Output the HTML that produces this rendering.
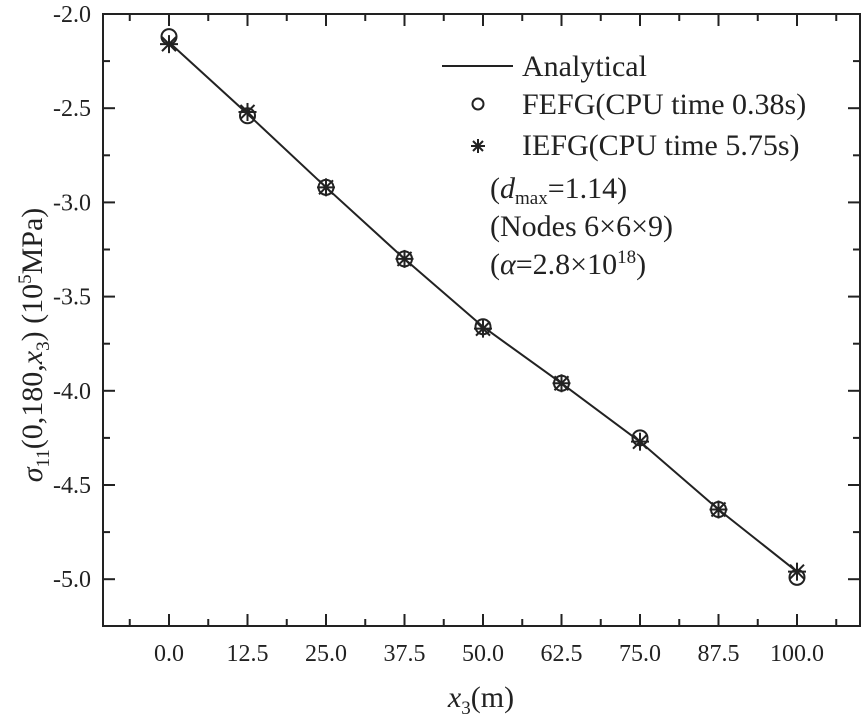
<!DOCTYPE html>
<html><head><meta charset="utf-8"><style>
body{margin:0;background:#fff;}
svg{display:block;font-family:"Liberation Serif",serif;}
</style></head><body>
<svg id="c" width="861" height="720">
<g id="axes"></g><g id="series"></g>
<g font-size="30" fill="#222">
<line x1="442" y1="66" x2="513" y2="66" stroke="#222" stroke-width="2"/>
<text x="522" y="76">Analytical</text>
<circle cx="478" cy="104" r="5.5" fill="none" stroke="#222" stroke-width="2"/>
<text x="522" y="114">FEFG(CPU time 0.38s)</text>
<g stroke="#222" stroke-width="2"><line x1="471" y1="146" x2="485" y2="146"/><line x1="478" y1="139" x2="478" y2="153"/><line x1="473" y1="141" x2="483" y2="151"/><line x1="483" y1="141" x2="473" y2="151"/></g>
<text x="522" y="155">IEFG(CPU time 5.75s)</text>
<text x="490" y="198">(<tspan font-style="italic">d</tspan><tspan font-size="19" dy="6">max</tspan><tspan dy="-6">=1.14)</tspan></text>
<text x="490" y="236">(Nodes 6×6×9)</text>
<text x="490" y="274">(<tspan font-style="italic">α</tspan>=2.8×10<tspan font-size="19" dy="-11">18</tspan><tspan dy="11">)</tspan></text>
</g>
<text x="481" y="707" text-anchor="middle" font-size="30" fill="#222"><tspan font-style="italic">x</tspan><tspan font-size="19" dy="7">3</tspan><tspan dy="-7">(m)</tspan></text>
<text transform="translate(42,345) rotate(-90)" text-anchor="middle" font-size="30" fill="#222"><tspan font-style="italic">σ</tspan><tspan font-size="19" dy="7">11</tspan><tspan dy="-7">(0,180,</tspan><tspan font-style="italic">x</tspan><tspan font-size="19" dy="7">3</tspan><tspan dy="-7">) (10</tspan><tspan font-size="19" dy="-11">5</tspan><tspan dy="11">MPa)</tspan></text>
</svg>
<script>
const xCats=[0,12.5,25,37.5,50,62.5,75,87.5,100];
const analytical=[-2.15,-2.53,-2.92,-3.30,-3.66,-3.96,-4.27,-4.63,-4.96];
const fefg=[-2.12,-2.54,-2.92,-3.30,-3.66,-3.96,-4.25,-4.63,-4.99];
const iefg=[-2.16,-2.52,-2.92,-3.30,-3.67,-3.96,-4.27,-4.63,-4.96];
const xTicks=["0.0","12.5","25.0","37.5","50.0","62.5","75.0","87.5","100.0"];
const yTicks=["-2.0","-2.5","-3.0","-3.5","-4.0","-4.5","-5.0"];
const L=103,R=860,T=14,B=626;
const X=v=>169+v/12.5*78.5;
const Y=v=>14+(-2-v)/0.5*94.2;
const NS="http://www.w3.org/2000/svg";
function mk(p,t,a){const e=document.createElementNS(NS,t);for(const k in a)e.setAttribute(k,a[k]);p.appendChild(e);return e;}
const ax=document.getElementById('axes'),se=document.getElementById('series');
const frame=mk(ax,'rect',{x:L,y:T,width:R-L,height:B-T,fill:'none',stroke:'#222','stroke-width':2});


for(let v=-6.25;v<=110;v+=6.25){const x=X(v);if(x<=L||x>=R)continue;const maj=Math.abs(v%12.5)<1e-9;const len=maj?12:7;
mk(ax,'line',{x1:x,y1:B,x2:x,y2:B-len,stroke:'#222','stroke-width':2});mk(ax,'line',{x1:x,y1:T,x2:x,y2:T+len,stroke:'#222','stroke-width':2});}
for(let v=-2.25;v>=-5.25;v-=0.25){const y=Y(v);if(y>=B||y<=T)continue;const maj=Math.abs((v*4)%2)<1e-9;const len=maj?12:7;
mk(ax,'line',{x1:L,y1:y,x2:L+len,y2:y,stroke:'#222','stroke-width':2});mk(ax,'line',{x1:R,y1:y,x2:R-len,y2:y,stroke:'#222','stroke-width':2});}
xTicks.forEach((t,i)=>{const e=mk(ax,'text',{x:X(xCats[i]),y:661,'text-anchor':'middle','font-size':24,fill:'#222'});e.textContent=t;

});
yTicks.forEach(t=>{const e=mk(ax,'text',{x:91,y:Y(parseFloat(t))+8,'text-anchor':'end','font-size':24,fill:'#222'});e.textContent=t;

});
const pl=mk(se,'polyline',{points:xCats.map((c,i)=>X(c)+','+Y(analytical[i])).join(' '),fill:'none',stroke:'#222','stroke-width':2});


xCats.forEach((c,i)=>{const ci=mk(se,'circle',{cx:X(c),cy:Y(fefg[i]),r:7.5,fill:'none',stroke:'#222','stroke-width':2});


const g=mk(se,'g',{stroke:'#222','stroke-width':2});


const x=X(c),y=Y(iefg[i]);
mk(g,'line',{x1:x-9,y1:y,x2:x+9,y2:y});mk(g,'line',{x1:x,y1:y-9,x2:x,y2:y+9});
mk(g,'line',{x1:x-7,y1:y-7,x2:x+7,y2:y+7});mk(g,'line',{x1:x+7,y1:y-7,x2:x-7,y2:y+7});});
</script>
</body></html>
